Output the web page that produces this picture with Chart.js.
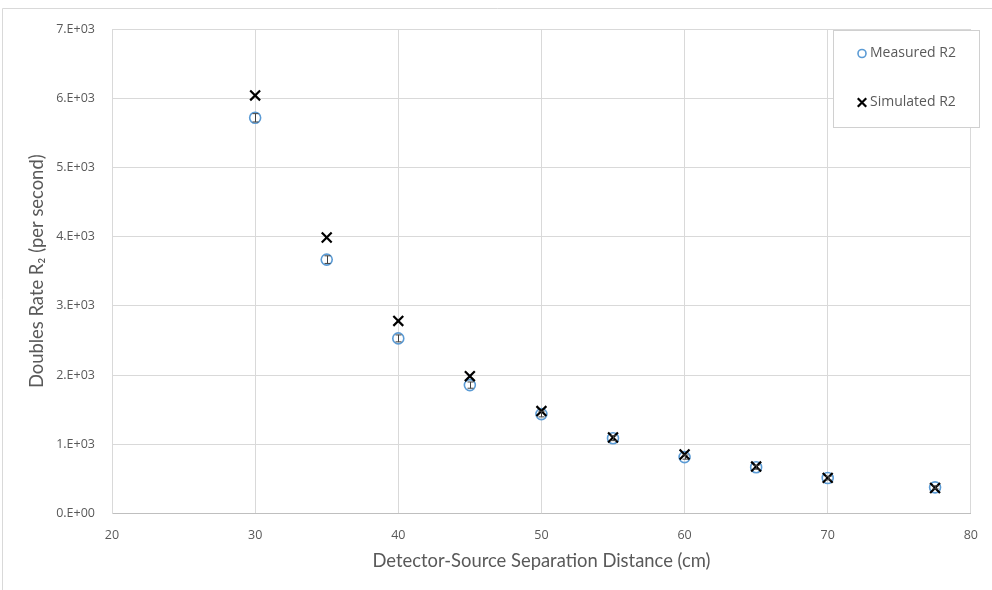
<!DOCTYPE html>
<html lang="en">
<head>
<meta charset="UTF-8">
<title>Doubles Rate R2 vs Separation Distance</title>
<script src="https://cdn.jsdelivr.net/npm/chart.js"></script>
<style>
html,body{margin:0;padding:0;background:#fff;}
.wrap{width:992px;height:590px;position:relative;}
</style>
</head>
<body>
<div class="wrap"><canvas id="r2Chart" width="992" height="590"></canvas></div>

<script>
Chart.defaults.animation=false;
Chart.defaults.font.family="'Open Sans', sans-serif";
Chart.defaults.color="#595959";

/* ── data ───────────────────────────────────────────────────────── */
const DIST      =[30,35,40,45,50,55,60,65,70,77.5];          // cm
const MEASURED  =[5717,3668,2530,1855,1436,1088,815,668,512,378];
const MEAS_ERR  =[60,55,50,45,40,35,30,28,25,22];
const SIMULATED =[6040,3988,2782,1984,1480,1098,852,678,515,368];
const LABELS    =["Measured R2","Simulated R2"];
const X_TICKS   ={min:20,max:80,step:10};
const Y_TICKS   ={min:0,max:7000,step:1000};

const BLUE="#5b9bd5", GRID="#d9d9d9";
const TITLE_FONT={family:"Lato, sans-serif",size:18.4};

const pts=ys=>DIST.map((x,i)=>({x,y:ys[i]}));

// 7000 -> "7.E+03", 0 -> "0.E+00"
const sci=v=>{
  if(v===0) return "0.E+00";
  const [m,e]=v.toExponential(0).split("e");
  const n=Math.abs(+e);
  return `${m}.E${+e<0?"-":"+"}${n<10?"0"+n:n}`;
};

/* ── plugins ────────────────────────────────────────────────────── */
const frame={
  id:"frame",
  beforeDraw(c){
    const g=c.ctx;
    g.save();
    g.strokeStyle="#d9d9d9";g.lineWidth=1;
    g.beginPath();
    g.moveTo(2.5,600);g.lineTo(2.5,8.5);g.lineTo(992,8.5);
    g.stroke();
    g.restore();
  }
};

const errBars={
  id:"errBars",
  afterDatasetsDraw(c){
    const g=c.ctx, y=c.scales.y, meta=c.getDatasetMeta(0);
    g.save();
    g.strokeStyle="#404040";g.lineWidth=1;
    meta.data.forEach((p,i)=>{
      const top=y.getPixelForValue(MEASURED[i]+MEAS_ERR[i]);
      const bot=y.getPixelForValue(MEASURED[i]-MEAS_ERR[i]);
      const cx=Math.round(p.x)+0.5;
      g.beginPath();
      g.moveTo(cx,top);g.lineTo(cx,bot);
      g.moveTo(cx-3,top);g.lineTo(cx+3,top);
      g.moveTo(cx-3,bot);g.lineTo(cx+3,bot);
      g.stroke();
    });
    g.restore();
  }
};

const boxLegend={
  id:"boxLegend",
  afterDraw(c){
    const g=c.ctx;
    const L=833.5,T=30.5,W=146,H=97;
    g.save();
    g.fillStyle="#fff";g.fillRect(L,T,W,H);
    g.strokeStyle="#d0d0d0";g.lineWidth=1;g.strokeRect(L,T,W,H);
    g.textBaseline="middle";
    c.data.datasets.forEach((ds,i)=>{
      const yy=T+23+i*49;
      const bw=i===0?1.6:2.2;
      g.strokeStyle=ds.borderColor;g.fillStyle="rgba(0,0,0,0)";g.lineWidth=bw;
      Chart.helpers.drawPoint(g,{pointStyle:ds.pointStyle,radius:i===0?4:6,
                                 rotation:0,borderWidth:bw},862,yy);
      g.fillStyle="#595959";
      g.font="14px 'Open Sans', sans-serif";
      g.fillText(ds.label,870,yy);
    });
    g.restore();
  }
};

/* ── chart ──────────────────────────────────────────────────────── */
new Chart(document.getElementById("r2Chart"),{
  type:"scatter",
  data:{
    datasets:[
      {label:LABELS[0],data:pts(MEASURED),pointStyle:"circle",
       pointRadius:5.5,pointBorderWidth:1.6,borderColor:BLUE,
       backgroundColor:"rgba(0,0,0,0)",order:1},
      {label:LABELS[1],data:pts(SIMULATED),pointStyle:"crossRot",
       pointRadius:7,pointBorderWidth:2.2,borderColor:"#000",
       backgroundColor:"#000",order:0}
    ]
  },
  options:{
    responsive:false,
    layout:{padding:{left:0,top:29,right:13,bottom:0}},
    plugins:{legend:{display:false},tooltip:{enabled:false}},
    scales:{
      x:{
        type:"linear",min:X_TICKS.min,max:X_TICKS.max,
        ticks:{stepSize:X_TICKS.step,padding:14,font:{size:12.5}},
        grid:{color:GRID,drawTicks:false,tickLength:0},
        border:{color:"#bfbfbf"},
        title:{display:true,text:"Detector-Source Separation Distance (cm)",
               font:TITLE_FONT,padding:{top:20,bottom:18}},
        afterFit:s=>{s.height=76.5;}
      },
      y:{
        min:Y_TICKS.min,max:Y_TICKS.max,
        ticks:{stepSize:Y_TICKS.step,padding:17,font:{size:12.5},callback:v=>sci(v)},
        grid:{color:GRID,drawTicks:false,tickLength:0},
        border:{color:GRID},
        title:{display:true,text:"Doubles Rate R\u2082 (per second)",
               font:TITLE_FONT,padding:{top:26,bottom:26}},
        afterFit:s=>{s.width=112;}
      }
    }
  },
  plugins:[frame,errBars,boxLegend]
});
</script>
</body>
</html>
